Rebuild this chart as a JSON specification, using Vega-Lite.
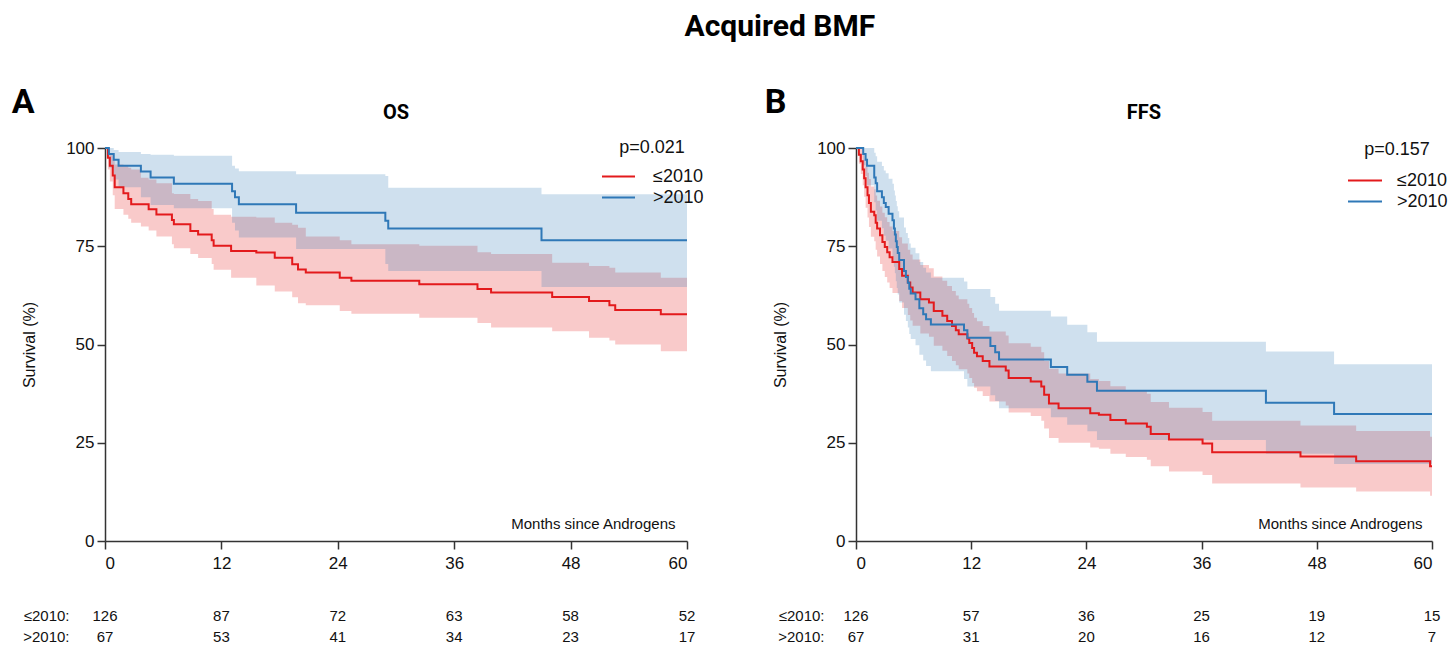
{
  "$schema": "https://vega.github.io/schema/vega-lite/v6.json",
  "padding": {"left": 11, "top": 12, "right": 2, "bottom": 2},
  "background": "white",
  "config": {
    "view": {"stroke": null},
    "font": "Liberation Sans",
    "axis": {"domainColor": "#333", "tickColor": "#333", "domainWidth": 1.5, "tickWidth": 1.5, "grid": false, "labelFont": "Liberation Sans", "labelFontSize": 17, "labelColor": "#111", "titleFont": "Liberation Sans", "titleFontWeight": "normal", "titleColor": "#111"},
    "legend": {"labelFont": "Liberation Sans", "titleFont": "Liberation Sans"},
    "concat": {"spacing": 60}
  },
  "title": {"text": "Acquired BMF", "font": "Roboto", "fontSize": 30, "fontWeight": "bold", "anchor": "middle", "color": "#000", "offset": 44, "dx": 50},
  "datasets": {
    "km": [
      {"p":"A","g":"≤2010","t":0,"s":100,"lo":100,"hi":100},
      {"p":"A","g":"≤2010","t":0.3,"s":97.5,"lo":94.5,"hi":99.5},
      {"p":"A","g":"≤2010","t":0.5,"s":95.5,"lo":91.5,"hi":98.5},
      {"p":"A","g":"≤2010","t":0.8,"s":93,"lo":88,"hi":97},
      {"p":"A","g":"≤2010","t":1.0,"s":90,"lo":84.5,"hi":95.8},
      {"p":"A","g":"≤2010","t":1.9,"s":88.5,"lo":83,"hi":95.5},
      {"p":"A","g":"≤2010","t":2.4,"s":87,"lo":82,"hi":95},
      {"p":"A","g":"≤2010","t":2.7,"s":85.7,"lo":81,"hi":94.5},
      {"p":"A","g":"≤2010","t":3.7,"s":85.7,"lo":80,"hi":92.4},
      {"p":"A","g":"≤2010","t":4.5,"s":84.4,"lo":79,"hi":92},
      {"p":"A","g":"≤2010","t":5.3,"s":83.1,"lo":77.5,"hi":91},
      {"p":"A","g":"≤2010","t":6.9,"s":81.7,"lo":75.5,"hi":88.5},
      {"p":"A","g":"≤2010","t":7.1,"s":80.6,"lo":74.5,"hi":88.3},
      {"p":"A","g":"≤2010","t":8.8,"s":78.9,"lo":73,"hi":87},
      {"p":"A","g":"≤2010","t":9.6,"s":78,"lo":72,"hi":86.5},
      {"p":"A","g":"≤2010","t":11.0,"s":76.5,"lo":70.5,"hi":84.5},
      {"p":"A","g":"≤2010","t":11.2,"s":75.1,"lo":69,"hi":83},
      {"p":"A","g":"≤2010","t":13.0,"s":73.8,"lo":67,"hi":82.5},
      {"p":"A","g":"≤2010","t":15.6,"s":73.4,"lo":65,"hi":82.3},
      {"p":"A","g":"≤2010","t":17.5,"s":72.1,"lo":63.5,"hi":81},
      {"p":"A","g":"≤2010","t":19.3,"s":70.4,"lo":62,"hi":80.5},
      {"p":"A","g":"≤2010","t":19.9,"s":69.1,"lo":60.5,"hi":79.7},
      {"p":"A","g":"≤2010","t":20.7,"s":68.3,"lo":60,"hi":77.5},
      {"p":"A","g":"≤2010","t":24.2,"s":67,"lo":58.5,"hi":76.5},
      {"p":"A","g":"≤2010","t":25.4,"s":66.2,"lo":57.8,"hi":75.5},
      {"p":"A","g":"≤2010","t":32.4,"s":65.3,"lo":56.8,"hi":75.1},
      {"p":"A","g":"≤2010","t":38.4,"s":64.1,"lo":55.5,"hi":73.5},
      {"p":"A","g":"≤2010","t":39.8,"s":63.2,"lo":54.3,"hi":73},
      {"p":"A","g":"≤2010","t":46.1,"s":62.1,"lo":53.4,"hi":70.8},
      {"p":"A","g":"≤2010","t":49.9,"s":61.1,"lo":51.7,"hi":70},
      {"p":"A","g":"≤2010","t":52.0,"s":60,"lo":51,"hi":69.5},
      {"p":"A","g":"≤2010","t":52.6,"s":58.8,"lo":50,"hi":68.3},
      {"p":"A","g":"≤2010","t":57.3,"s":57.7,"lo":48.3,"hi":67},
      {"p":"A","g":"≤2010","t":60,"s":57.7,"lo":48.3,"hi":67},
      {"p":"A","g":">2010","t":0,"s":100,"lo":100,"hi":100},
      {"p":"A","g":">2010","t":0.4,"s":98.5,"lo":95,"hi":100},
      {"p":"A","g":">2010","t":0.9,"s":97,"lo":92,"hi":99.5},
      {"p":"A","g":">2010","t":1.4,"s":95.5,"lo":90,"hi":99},
      {"p":"A","g":">2010","t":3.7,"s":94,"lo":87.5,"hi":98.5},
      {"p":"A","g":">2010","t":4.7,"s":92.5,"lo":85.5,"hi":98.3},
      {"p":"A","g":">2010","t":7.1,"s":90.9,"lo":84.7,"hi":98},
      {"p":"A","g":">2010","t":13.1,"s":89,"lo":81,"hi":95.5},
      {"p":"A","g":">2010","t":13.4,"s":87.5,"lo":79,"hi":94.8},
      {"p":"A","g":">2010","t":13.8,"s":85.7,"lo":77.2,"hi":94.1},
      {"p":"A","g":">2010","t":19.7,"s":83.5,"lo":74.3,"hi":93.3},
      {"p":"A","g":">2010","t":28.9,"s":81.5,"lo":70.5,"hi":92.9},
      {"p":"A","g":">2010","t":29.2,"s":79.5,"lo":68.7,"hi":89.9},
      {"p":"A","g":">2010","t":45.0,"s":76.5,"lo":64.6,"hi":88.2},
      {"p":"A","g":">2010","t":60,"s":76.5,"lo":64.6,"hi":88.2},
      {"p":"B","g":"≤2010","t":0,"s":100,"lo":100,"hi":100},
      {"p":"B","g":"≤2010","t":0.3,"s":98.3,"lo":96.0,"hi":100},
      {"p":"B","g":"≤2010","t":0.5,"s":96.6,"lo":93.4,"hi":99.8},
      {"p":"B","g":"≤2010","t":0.7,"s":94.5,"lo":90.5,"hi":98.5},
      {"p":"B","g":"≤2010","t":0.85,"s":92.3,"lo":87.6,"hi":97.0},
      {"p":"B","g":"≤2010","t":1.0,"s":90,"lo":84.8,"hi":95.2},
      {"p":"B","g":"≤2010","t":1.2,"s":88,"lo":82.3,"hi":93.7},
      {"p":"B","g":"≤2010","t":1.35,"s":86,"lo":79.9,"hi":92.1},
      {"p":"B","g":"≤2010","t":1.55,"s":83.8,"lo":77.4,"hi":90.2},
      {"p":"B","g":"≤2010","t":1.9,"s":82.9,"lo":76.3,"hi":89.5},
      {"p":"B","g":"≤2010","t":2.05,"s":81,"lo":74.1,"hi":87.9},
      {"p":"B","g":"≤2010","t":2.2,"s":79.5,"lo":72.4,"hi":86.6},
      {"p":"B","g":"≤2010","t":2.5,"s":77.8,"lo":70.5,"hi":85.1},
      {"p":"B","g":"≤2010","t":2.75,"s":76.1,"lo":68.7,"hi":83.5},
      {"p":"B","g":"≤2010","t":3.0,"s":74.8,"lo":67.2,"hi":82.4},
      {"p":"B","g":"≤2010","t":3.25,"s":73.5,"lo":65.8,"hi":81.2},
      {"p":"B","g":"≤2010","t":3.5,"s":72.2,"lo":64.4,"hi":80.0},
      {"p":"B","g":"≤2010","t":3.8,"s":71,"lo":63.1,"hi":78.9},
      {"p":"B","g":"≤2010","t":4.5,"s":69.2,"lo":61.1,"hi":77.3},
      {"p":"B","g":"≤2010","t":4.8,"s":67.5,"lo":59.3,"hi":75.7},
      {"p":"B","g":"≤2010","t":5.4,"s":65.8,"lo":57.5,"hi":74.1},
      {"p":"B","g":"≤2010","t":5.65,"s":64.5,"lo":56.1,"hi":72.9},
      {"p":"B","g":"≤2010","t":5.9,"s":63.2,"lo":54.8,"hi":71.6},
      {"p":"B","g":"≤2010","t":6.7,"s":61.5,"lo":52.8,"hi":70.2},
      {"p":"B","g":"≤2010","t":7.6,"s":60.7,"lo":52.0,"hi":69.4},
      {"p":"B","g":"≤2010","t":8.1,"s":58.5,"lo":49.7,"hi":67.3},
      {"p":"B","g":"≤2010","t":9.0,"s":57.3,"lo":48.4,"hi":66.2},
      {"p":"B","g":"≤2010","t":9.5,"s":56,"lo":47.1,"hi":64.9},
      {"p":"B","g":"≤2010","t":10.0,"s":54.7,"lo":45.8,"hi":63.6},
      {"p":"B","g":"≤2010","t":10.4,"s":53.6,"lo":44.7,"hi":62.5},
      {"p":"B","g":"≤2010","t":10.7,"s":52.6,"lo":43.7,"hi":61.5},
      {"p":"B","g":"≤2010","t":11.6,"s":51.5,"lo":42.6,"hi":60.4},
      {"p":"B","g":"≤2010","t":11.8,"s":50.4,"lo":41.5,"hi":59.3},
      {"p":"B","g":"≤2010","t":12.1,"s":49.1,"lo":40.2,"hi":58.0},
      {"p":"B","g":"≤2010","t":12.3,"s":47.9,"lo":39.0,"hi":56.8},
      {"p":"B","g":"≤2010","t":12.6,"s":47,"lo":38.1,"hi":55.9},
      {"p":"B","g":"≤2010","t":13.2,"s":45.8,"lo":36.9,"hi":54.7},
      {"p":"B","g":"≤2010","t":13.9,"s":44.4,"lo":35.5,"hi":53.3},
      {"p":"B","g":"≤2010","t":15.6,"s":43.4,"lo":34.5,"hi":52.3},
      {"p":"B","g":"≤2010","t":15.9,"s":41.5,"lo":32.7,"hi":50.3},
      {"p":"B","g":"≤2010","t":18.2,"s":40.6,"lo":31.8,"hi":49.4},
      {"p":"B","g":"≤2010","t":19.3,"s":39.3,"lo":30.6,"hi":48.0},
      {"p":"B","g":"≤2010","t":19.6,"s":37.2,"lo":28.6,"hi":45.8},
      {"p":"B","g":"≤2010","t":20.1,"s":35,"lo":26.2,"hi":43.8},
      {"p":"B","g":"≤2010","t":21.1,"s":33.8,"lo":25.0,"hi":42.6},
      {"p":"B","g":"≤2010","t":24.4,"s":32.5,"lo":23.8,"hi":41.2},
      {"p":"B","g":"≤2010","t":25.3,"s":32.1,"lo":23.5,"hi":40.7},
      {"p":"B","g":"≤2010","t":26.5,"s":30.8,"lo":22.2,"hi":39.4},
      {"p":"B","g":"≤2010","t":28.1,"s":29.9,"lo":21.4,"hi":38.4},
      {"p":"B","g":"≤2010","t":30.3,"s":29.1,"lo":20.7,"hi":37.5},
      {"p":"B","g":"≤2010","t":30.7,"s":27.2,"lo":19.0,"hi":35.4},
      {"p":"B","g":"≤2010","t":32.6,"s":25.8,"lo":17.7,"hi":33.9},
      {"p":"B","g":"≤2010","t":36.1,"s":24.8,"lo":16.8,"hi":32.8},
      {"p":"B","g":"≤2010","t":37.1,"s":22.6,"lo":14.6,"hi":30.6},
      {"p":"B","g":"≤2010","t":46.3,"s":21.5,"lo":13.6,"hi":29.4},
      {"p":"B","g":"≤2010","t":52.1,"s":20.3,"lo":12.6,"hi":28.0},
      {"p":"B","g":"≤2010","t":59.8,"s":19,"lo":11.5,"hi":26.5},
      {"p":"B","g":"≤2010","t":60,"s":19,"lo":11.5,"hi":26.5},
      {"p":"B","g":">2010","t":0,"s":100,"lo":100,"hi":100},
      {"p":"B","g":">2010","t":0.75,"s":98.5,"lo":95.6,"hi":100},
      {"p":"B","g":">2010","t":1.0,"s":97,"lo":92.9,"hi":100},
      {"p":"B","g":">2010","t":1.15,"s":95.5,"lo":90.5,"hi":100},
      {"p":"B","g":">2010","t":1.9,"s":92.5,"lo":86.2,"hi":98.8},
      {"p":"B","g":">2010","t":2.05,"s":91,"lo":84.1,"hi":97.9},
      {"p":"B","g":">2010","t":2.2,"s":89,"lo":81.5,"hi":96.5},
      {"p":"B","g":">2010","t":2.7,"s":87.5,"lo":79.6,"hi":95.4},
      {"p":"B","g":">2010","t":2.9,"s":86,"lo":77.7,"hi":94.3},
      {"p":"B","g":">2010","t":3.1,"s":85,"lo":76.4,"hi":93.6},
      {"p":"B","g":">2010","t":3.4,"s":83.3,"lo":74.4,"hi":92.2},
      {"p":"B","g":">2010","t":3.8,"s":81.6,"lo":72.3,"hi":90.9},
      {"p":"B","g":">2010","t":3.95,"s":79.5,"lo":69.8,"hi":89.2},
      {"p":"B","g":">2010","t":4.05,"s":78,"lo":68.1,"hi":87.9},
      {"p":"B","g":">2010","t":4.15,"s":76.3,"lo":66.1,"hi":86.5},
      {"p":"B","g":">2010","t":4.25,"s":74.8,"lo":64.4,"hi":85.2},
      {"p":"B","g":">2010","t":4.35,"s":73.3,"lo":62.7,"hi":83.9},
      {"p":"B","g":">2010","t":4.5,"s":71.5,"lo":60.7,"hi":82.3},
      {"p":"B","g":">2010","t":5.0,"s":68.7,"lo":57.6,"hi":79.8},
      {"p":"B","g":">2010","t":5.2,"s":67.2,"lo":56.0,"hi":78.4},
      {"p":"B","g":">2010","t":5.4,"s":65.7,"lo":54.3,"hi":77.1},
      {"p":"B","g":">2010","t":5.55,"s":64.2,"lo":52.7,"hi":75.7},
      {"p":"B","g":">2010","t":5.7,"s":63,"lo":51.4,"hi":74.6},
      {"p":"B","g":">2010","t":6.2,"s":61.5,"lo":49.8,"hi":73.2},
      {"p":"B","g":">2010","t":6.6,"s":59.2,"lo":47.4,"hi":71.0},
      {"p":"B","g":">2010","t":7.0,"s":57.7,"lo":45.9,"hi":69.5},
      {"p":"B","g":">2010","t":7.3,"s":56.4,"lo":44.5,"hi":68.3},
      {"p":"B","g":">2010","t":7.8,"s":55.1,"lo":43.2,"hi":67.0},
      {"p":"B","g":">2010","t":11.25,"s":53.6,"lo":41.2,"hi":66.0},
      {"p":"B","g":">2010","t":11.6,"s":51.7,"lo":39.3,"hi":64.1},
      {"p":"B","g":">2010","t":14.0,"s":49.6,"lo":37.1,"hi":62.1},
      {"p":"B","g":">2010","t":14.5,"s":48,"lo":35.6,"hi":60.4},
      {"p":"B","g":">2010","t":14.9,"s":46.2,"lo":33.8,"hi":58.6},
      {"p":"B","g":">2010","t":20.3,"s":44.3,"lo":31.5,"hi":57.1},
      {"p":"B","g":">2010","t":22.0,"s":42.3,"lo":29.6,"hi":55.0},
      {"p":"B","g":">2010","t":24.1,"s":40.5,"lo":27.9,"hi":53.1},
      {"p":"B","g":">2010","t":25.1,"s":38.2,"lo":25.7,"hi":50.7},
      {"p":"B","g":">2010","t":42.7,"s":35.2,"lo":22.2,"hi":48.2},
      {"p":"B","g":">2010","t":49.8,"s":32.3,"lo":19.6,"hi":45.0},
      {"p":"B","g":">2010","t":60,"s":32.3,"lo":19.6,"hi":45.0}
    ],
    "risk": [
      {"p":"A","g":"≤2010","t":0,"n":126},{"p":"A","g":"≤2010","t":12,"n":87},{"p":"A","g":"≤2010","t":24,"n":72},{"p":"A","g":"≤2010","t":36,"n":63},{"p":"A","g":"≤2010","t":48,"n":58},{"p":"A","g":"≤2010","t":60,"n":52},
      {"p":"A","g":">2010","t":0,"n":67},{"p":"A","g":">2010","t":12,"n":53},{"p":"A","g":">2010","t":24,"n":41},{"p":"A","g":">2010","t":36,"n":34},{"p":"A","g":">2010","t":48,"n":23},{"p":"A","g":">2010","t":60,"n":17},
      {"p":"B","g":"≤2010","t":0,"n":126},{"p":"B","g":"≤2010","t":12,"n":57},{"p":"B","g":"≤2010","t":24,"n":36},{"p":"B","g":"≤2010","t":36,"n":25},{"p":"B","g":"≤2010","t":48,"n":19},{"p":"B","g":"≤2010","t":60,"n":15},
      {"p":"B","g":">2010","t":0,"n":67},{"p":"B","g":">2010","t":12,"n":31},{"p":"B","g":">2010","t":24,"n":20},{"p":"B","g":">2010","t":36,"n":16},{"p":"B","g":">2010","t":48,"n":12},{"p":"B","g":">2010","t":60,"n":7}
    ]
  },
  "resolve": {"scale": {"color": "independent"}, "legend": {"color": "independent"}},
  "hconcat": [
    {
      "title": {"text": "A", "anchor": "start", "font": "Roboto", "fontSize": 34, "fontWeight": "bold", "color": "#000", "offset": -17, "dx": -10},
      "spacing": 34,
      "resolve": {"scale": {"color": "independent"}, "legend": {"color": "independent"}},
      "vconcat": [
        {
          "title": {"text": "OS", "font": "Roboto", "fontSize": 20, "fontWeight": "bold", "color": "#000", "offset": 16},
          "width": 582, "height": 393,
          "data": {"name": "km"},
          "transform": [{"filter": "datum.p === 'A'"}],
          "encoding": {
            "x": {"field": "t", "type": "quantitative", "scale": {"domain": [0, 60], "nice": false}, "axis": {"values": [0, 12, 24, 36, 48, 60], "tickSize": 8, "labelPadding": 6, "title": "Months since Androgens", "titleFontSize": 15, "titleAnchor": "end", "titleAlign": "right", "titleX": 570, "titleY": -10, "titleBaseline": "bottom"}},
            "y": {"type": "quantitative", "scale": {"domain": [0, 100], "nice": false}, "axis": {"values": [0, 25, 50, 75, 100], "tickSize": 8, "labelPadding": 3, "title": "Survival (%)", "titleFontSize": 16, "titlePadding": 28}}
          },
          "layer": [
            {
              "transform": [{"filter": "datum.g === '≤2010'"}],
              "mark": {"type": "area", "interpolate": "step-after", "color": "#e31a1c", "fillOpacity": 0.23},
              "encoding": {"y": {"field": "lo"}, "y2": {"field": "hi"}}
            },
            {
              "transform": [{"filter": "datum.g === '>2010'"}],
              "mark": {"type": "area", "interpolate": "step-after", "color": "#2f78b7", "fillOpacity": 0.23},
              "encoding": {"y": {"field": "lo"}, "y2": {"field": "hi"}}
            },
            {
              "mark": {"type": "line", "interpolate": "step-after", "strokeWidth": 2},
              "encoding": {
                "y": {"field": "s"},
                "color": {"field": "g", "type": "nominal", "scale": {"domain": ["≤2010", ">2010"], "range": ["#e31a1c", "#2f78b7"]},
                  "legend": {"title": "p=0.021", "orient": "none", "legendX": 496, "legendY": -9, "titleFontSize": 18, "titleFontWeight": "normal", "titleColor": "#111", "titlePadding": 9, "titleAnchor": "middle", "labelFontSize": 18, "labelColor": "#111", "labelOffset": 17, "symbolType": "stroke", "symbolSize": 1089, "symbolStrokeWidth": 2, "clipHeight": 21, "rowPadding": 0}}
              }
            }
          ]
        },
        {
          "width": 582, "height": 42,
          "data": {"name": "risk"},
          "transform": [{"filter": "datum.p === 'A'"}],
          "mark": {"type": "text", "fontSize": 15, "font": "Liberation Sans", "color": "#111"},
          "encoding": {
            "x": {"field": "t", "type": "quantitative", "scale": {"domain": [0, 60], "nice": false}, "axis": null},
            "y": {"field": "g", "type": "nominal", "sort": ["≤2010", ">2010"], "axis": {"title": null, "domain": false, "ticks": false, "labelFontSize": 15, "labelPadding": 36, "labelExpr": "datum.label + ':'"}},
            "text": {"field": "n", "type": "quantitative"}
          }
        }
      ]
    },
    {
      "title": {"text": "B", "anchor": "start", "font": "Roboto", "fontSize": 34, "fontWeight": "bold", "color": "#000", "offset": -17, "dx": -8},
      "spacing": 34,
      "resolve": {"scale": {"color": "independent"}, "legend": {"color": "independent"}},
      "vconcat": [
        {
          "title": {"text": "FFS", "font": "Roboto", "fontSize": 20, "fontWeight": "bold", "color": "#000", "offset": 16},
          "width": 576, "height": 393,
          "data": {"name": "km"},
          "transform": [{"filter": "datum.p === 'B'"}],
          "encoding": {
            "x": {"field": "t", "type": "quantitative", "scale": {"domain": [0, 60], "nice": false}, "axis": {"values": [0, 12, 24, 36, 48, 60], "tickSize": 8, "labelPadding": 6, "title": "Months since Androgens", "titleFontSize": 15, "titleAnchor": "end", "titleAlign": "right", "titleX": 566, "titleY": -10, "titleBaseline": "bottom"}},
            "y": {"type": "quantitative", "scale": {"domain": [0, 100], "nice": false}, "axis": {"values": [0, 25, 50, 75, 100], "tickSize": 8, "labelPadding": 3, "title": "Survival (%)", "titleFontSize": 16, "titlePadding": 28}}
          },
          "layer": [
            {
              "transform": [{"filter": "datum.g === '≤2010'"}],
              "mark": {"type": "area", "interpolate": "step-after", "color": "#e31a1c", "fillOpacity": 0.23},
              "encoding": {"y": {"field": "lo"}, "y2": {"field": "hi"}}
            },
            {
              "transform": [{"filter": "datum.g === '>2010'"}],
              "mark": {"type": "area", "interpolate": "step-after", "color": "#2f78b7", "fillOpacity": 0.23},
              "encoding": {"y": {"field": "lo"}, "y2": {"field": "hi"}}
            },
            {
              "mark": {"type": "line", "interpolate": "step-after", "strokeWidth": 2},
              "encoding": {
                "y": {"field": "s"},
                "color": {"field": "g", "type": "nominal", "scale": {"domain": ["≤2010", ">2010"], "range": ["#e31a1c", "#2f78b7"]},
                  "legend": {"title": "p=0.157", "orient": "none", "legendX": 491, "legendY": -7, "titleFontSize": 18, "titleFontWeight": "normal", "titleColor": "#111", "titlePadding": 11, "titleAnchor": "middle", "labelFontSize": 18, "labelColor": "#111", "labelOffset": 14, "symbolType": "stroke", "symbolSize": 1156, "symbolStrokeWidth": 2, "clipHeight": 21, "rowPadding": 0}}
              }
            }
          ]
        },
        {
          "width": 576, "height": 42,
          "data": {"name": "risk"},
          "transform": [{"filter": "datum.p === 'B'"}],
          "mark": {"type": "text", "fontSize": 15, "font": "Liberation Sans", "color": "#111"},
          "encoding": {
            "x": {"field": "t", "type": "quantitative", "scale": {"domain": [0, 60], "nice": false}, "axis": null},
            "y": {"field": "g", "type": "nominal", "sort": ["≤2010", ">2010"], "axis": {"title": null, "domain": false, "ticks": false, "labelFontSize": 15, "labelPadding": 32, "labelExpr": "datum.label + ':'"}},
            "text": {"field": "n", "type": "quantitative"}
          }
        }
      ]
    }
  ]
}
